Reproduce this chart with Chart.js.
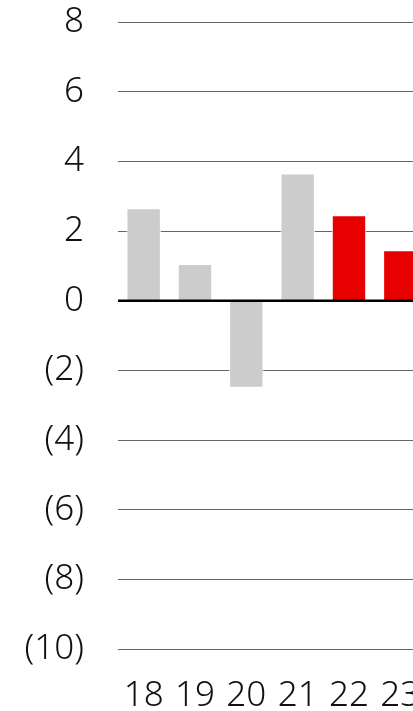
<!DOCTYPE html>
<html>
<head>
<meta charset="utf-8">
<script src="https://cdn.jsdelivr.net/npm/chart.js@4"></script>
<style>
  html, body { margin: 0; padding: 0; background: #fff; overflow: hidden; }
  canvas { display: block; }
</style>
</head>
<body>
<canvas id="grafico" width="426" height="711"></canvas>
<script>
// datos
const anios = ["18", "19", "20", "21", "22", "23"];
const valores = [2.65, 1.05, -2.5, 3.65, 2.45, 1.45];
const colores = ["#cccccc", "#cccccc", "#cccccc", "#cccccc", "#e60000", "#e60000"];
const ticksY = [-10, -8, -6, -4, -2, 0, 2, 4, 6, 8];

const fuente = "'Noto Sans', sans-serif";

// línea del cero encima de las barras
const lineaCero = {
    id: "lineaCero",
    afterDatasetsDraw(chart) {
        const y = chart.scales.y.getPixelForValue(0);
        const ctx = chart.ctx;
        ctx.save();
        ctx.strokeStyle = "#000";
        ctx.lineWidth = 2.5;
        ctx.beginPath();
        ctx.moveTo(chart.chartArea.left, y);
        ctx.lineTo(chart.chartArea.right, y);
        ctx.stroke();
        ctx.restore();
    }
};

const ctx = document.getElementById("grafico");

new Chart(ctx, {
    type: "bar",
    data: {
        labels: anios,
        datasets: [{
            data: valores,
            backgroundColor: colores,
            borderColor: "#ffffff",
            borderWidth: 1,
            barPercentage: 0.67,
            categoryPercentage: 1
        }]
    },
    options: {
        responsive: false,
        animation: false,
        layout: { padding: { top: 22, left: 0, right: 0, bottom: 0 } },
        plugins: { legend: { display: false }, tooltip: { enabled: false } },
        scales: {
            x: {
                // rayitas invisibles solo para separar las etiquetas
                grid: { color: "transparent", tickColor: "transparent", drawTicks: true, tickLength: 24 },
                border: { display: false },
                ticks: {
                    color: "#111",
                    font: { family: fuente, size: 35, weight: "300" },
                    padding: 2,
                    maxRotation: 0,
                    autoSkip: false
                },
                afterFit(scale) { scale.height = 62; }
            },
            y: {
                min: -10,
                max: 8,
                afterBuildTicks(scale) {
                    scale.ticks = ticksY.map(v => ({ value: v }));
                },
                grid: {
                    color: "#666666",
                    lineWidth: 1,
                    drawTicks: true,
                    tickLength: 34,
                    tickColor: "transparent"
                },
                border: { display: false },
                ticks: {
                    color: "#111",
                    font: { family: fuente, size: 35, weight: "300" },
                    padding: 0,
                    callback: v => v < 0 ? "(" + Math.abs(v) + ")" : String(v)
                },
                afterFit(scale) { scale.width = 118; }
            }
        }
    },
    plugins: [lineaCero]
});
</script>
</body>
</html>
